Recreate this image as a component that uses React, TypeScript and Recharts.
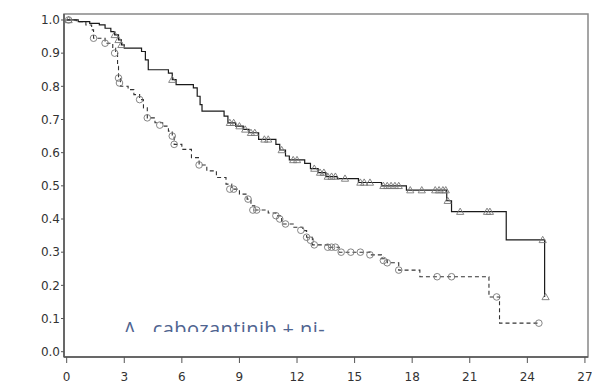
import React from 'react';
import { ComposedChart, XAxis, YAxis, Line, Scatter, ReferenceArea } from 'recharts';

// Kaplan-Meier step points (months, survival probability)
const caboNivoTimes = [0, 0.6, 1.2, 1.7, 2.0, 2.3, 2.5, 2.7, 2.85, 3.0, 3.9, 4.1, 4.25, 5.3, 5.5, 5.7, 6.6, 6.8, 6.95, 7.05, 8.2, 8.4, 8.8, 9.2, 9.5, 10.0, 10.9, 11.1, 11.4, 11.6, 12.4, 12.7, 13.1, 13.5, 14.1, 15.2, 16.4, 17.7, 19.8, 20.05, 22.9, 24.9];
const caboNivoSurv = [1.0, 0.995, 0.99, 0.985, 0.975, 0.965, 0.955, 0.94, 0.925, 0.915, 0.905, 0.88, 0.85, 0.84, 0.82, 0.805, 0.795, 0.77, 0.745, 0.725, 0.71, 0.69, 0.68, 0.67, 0.66, 0.64, 0.625, 0.608, 0.59, 0.578, 0.568, 0.552, 0.54, 0.528, 0.522, 0.51, 0.5, 0.487, 0.455, 0.422, 0.337, 0.165];

const sunitinibTimes = [0, 0.5, 1.0, 1.3, 1.4, 2.0, 2.4, 2.55, 2.65, 2.7, 2.8, 3.2, 3.5, 3.8, 4.0, 4.2, 4.6, 5.0, 5.3, 5.5, 5.6, 6.0, 6.5, 6.9, 7.3, 7.8, 8.3, 8.6, 9.0, 9.4, 9.6, 9.8, 10.5, 10.9, 11.2, 11.8, 12.3, 12.5, 12.8, 13.7, 14.2, 15.8, 16.4, 16.7, 17.3, 18.4, 22.0, 22.55, 24.6];
const sunitinibSurv = [1.0, 0.995, 0.985, 0.97, 0.945, 0.93, 0.915, 0.9, 0.86, 0.825, 0.8, 0.79, 0.775, 0.76, 0.735, 0.705, 0.69, 0.68, 0.665, 0.65, 0.625, 0.61, 0.585, 0.563, 0.545, 0.525, 0.505, 0.49, 0.475, 0.46, 0.44, 0.427, 0.418, 0.41, 0.385, 0.375, 0.365, 0.345, 0.322, 0.315, 0.3, 0.292, 0.28, 0.268, 0.246, 0.226, 0.165, 0.086, 0.086];

// censored observations
const caboNivoCensT = [0.1, 2.5, 2.7, 2.85, 5.5, 8.5, 8.7, 9.0, 9.3, 9.6, 9.8, 10.3, 10.5, 11.2, 11.8, 12.0, 12.9, 13.2, 13.4, 13.6, 13.8, 14.0, 14.5, 15.3, 15.5, 15.8, 16.5, 16.7, 16.9, 17.1, 17.3, 17.9, 18.5, 19.2, 19.4, 19.6, 19.75, 19.85, 20.5, 21.9, 22.05, 24.8, 24.95];
const caboNivoCensS = [1.0, 0.955, 0.94, 0.925, 0.82, 0.69, 0.69, 0.68, 0.67, 0.66, 0.66, 0.64, 0.64, 0.608, 0.578, 0.578, 0.552, 0.54, 0.54, 0.528, 0.528, 0.528, 0.522, 0.51, 0.51, 0.51, 0.5, 0.5, 0.5, 0.5, 0.5, 0.487, 0.487, 0.487, 0.487, 0.487, 0.487, 0.455, 0.422, 0.422, 0.422, 0.337, 0.165];

const sunitinibCensT = [0.1, 1.4, 2.0, 2.5, 2.7, 2.75, 3.8, 4.2, 4.85, 5.5, 5.6, 6.9, 8.5, 8.7, 9.45, 9.7, 9.9, 10.9, 11.1, 11.4, 12.2, 12.5, 12.7, 12.9, 13.6, 13.8, 14.0, 14.3, 14.8, 15.3, 15.8, 16.5, 16.7, 17.3, 19.3, 20.05, 22.4, 24.6];
const sunitinibCensS = [1.0, 0.945, 0.93, 0.9, 0.825, 0.81, 0.76, 0.705, 0.683, 0.65, 0.625, 0.563, 0.49, 0.49, 0.46, 0.427, 0.427, 0.41, 0.4, 0.385, 0.366, 0.345, 0.336, 0.322, 0.315, 0.315, 0.315, 0.3, 0.3, 0.3, 0.292, 0.275, 0.268, 0.246, 0.226, 0.226, 0.165, 0.086];

const xTicks = [0, 3, 6, 9, 12, 15, 18, 21, 24, 27];
const xMinorTicks = [0, 1, 2, 3, 4, 5, 6, 7, 8, 9, 10, 11, 12, 13, 14, 15, 16, 17, 18, 19, 20, 21, 22, 23, 24, 25, 26, 27];
const yTicks = [0, 0.1, 0.2, 0.3, 0.4, 0.5, 0.6, 0.7, 0.8, 0.9, 1.0];

const legendText = 'Δ   cabozantinib + ni-';

const zip = (ts: number[], ss: number[]) => ts.map((t, i) => ({ t, s: ss[i] }));

const caboNivo = zip(caboNivoTimes, caboNivoSurv);
const sunitinib = zip(sunitinibTimes, sunitinibSurv);
const caboNivoCens = zip(caboNivoCensT, caboNivoCensS);
const sunitinibCens = zip(sunitinibCensT, sunitinibCensS);

const X_DOMAIN: [number, number] = [-0.14, 27.16];
const Y_DOMAIN: [number, number] = [-0.016, 1.018];
const tickFont = { fontFamily: 'DejaVu Sans', fontSize: 12, fill: '#333' };

const Triangle = (props: any) => {
  const { cx, cy } = props;
  const r = 3.6;
  return (
    <polygon
      points={`${cx},${cy - r} ${cx - r},${cy + r * 0.75} ${cx + r},${cy + r * 0.75}`}
      fill="none"
      stroke="#777"
      strokeWidth={0.9}
    />
  );
};

const Circle = (props: any) => (
  <circle cx={props.cx} cy={props.cy} r={3.3} fill="none" stroke="#777" strokeWidth={0.9} />
);

export default function App() {
  return (
    <div style={{ position: 'absolute', left: 0, top: 0, width: 592, height: 383, background: '#fff' }}>
      <ComposedChart width={592} height={383} margin={{ top: 14, right: 4, left: 0, bottom: 0 }}>
        <XAxis
          xAxisId="minor"
          type="number"
          dataKey="t"
          domain={X_DOMAIN}
          allowDataOverflow
          ticks={xMinorTicks}
          tickFormatter={() => ''}
          tickSize={3}
          axisLine={false}
          tickLine={{ stroke: '#555' }}
          height={0}
        />
        <XAxis
          type="number"
          dataKey="t"
          domain={X_DOMAIN}
          allowDataOverflow
          ticks={xTicks}
          interval={0}
          tickSize={6}
          tickMargin={9}
          tick={tickFont}
          axisLine={{ stroke: '#555', strokeWidth: 1.5 }}
          tickLine={{ stroke: '#555' }}
          height={26}
        />
        <YAxis
          type="number"
          dataKey="s"
          domain={Y_DOMAIN}
          allowDataOverflow
          ticks={yTicks}
          interval={0}
          tickFormatter={(v: number) => v.toFixed(1)}
          tickSize={3}
          tickMargin={1}
          tick={tickFont}
          axisLine={{ stroke: '#555', strokeWidth: 1.5 }}
          tickLine={{ stroke: '#555' }}
          width={64}
        />
        <ReferenceArea
          x1={X_DOMAIN[0]}
          x2={X_DOMAIN[1]}
          y1={Y_DOMAIN[0]}
          y2={Y_DOMAIN[1]}
          fill="none"
          stroke="#888"
          strokeWidth={1.5}
          ifOverflow="visible"
        />
        <Line
          data={sunitinib}
          dataKey="s"
          type="stepAfter"
          stroke="#333"
          strokeWidth={1.1}
          strokeDasharray="4 3"
          dot={false}
          isAnimationActive={false}
        />
        <Line
          data={caboNivo}
          dataKey="s"
          type="stepAfter"
          stroke="#1a1a1a"
          strokeWidth={1.2}
          dot={false}
          isAnimationActive={false}
        />
        <Scatter data={sunitinibCens} dataKey="s" shape={Circle} isAnimationActive={false} />
        <Scatter data={caboNivoCens} dataKey="s" shape={Triangle} isAnimationActive={false} />
      </ComposedChart>
      <div
        style={{
          position: 'absolute',
          left: 124,
          top: 317,
          height: 15,
          overflow: 'hidden',
          whiteSpace: 'pre',
          fontFamily: '"Open Sans"',
          fontSize: 20,
          letterSpacing: 0.4,
          lineHeight: '24px',
          color: '#4f6490',
        }}
      >
        {legendText}
      </div>
    </div>
  );
}
